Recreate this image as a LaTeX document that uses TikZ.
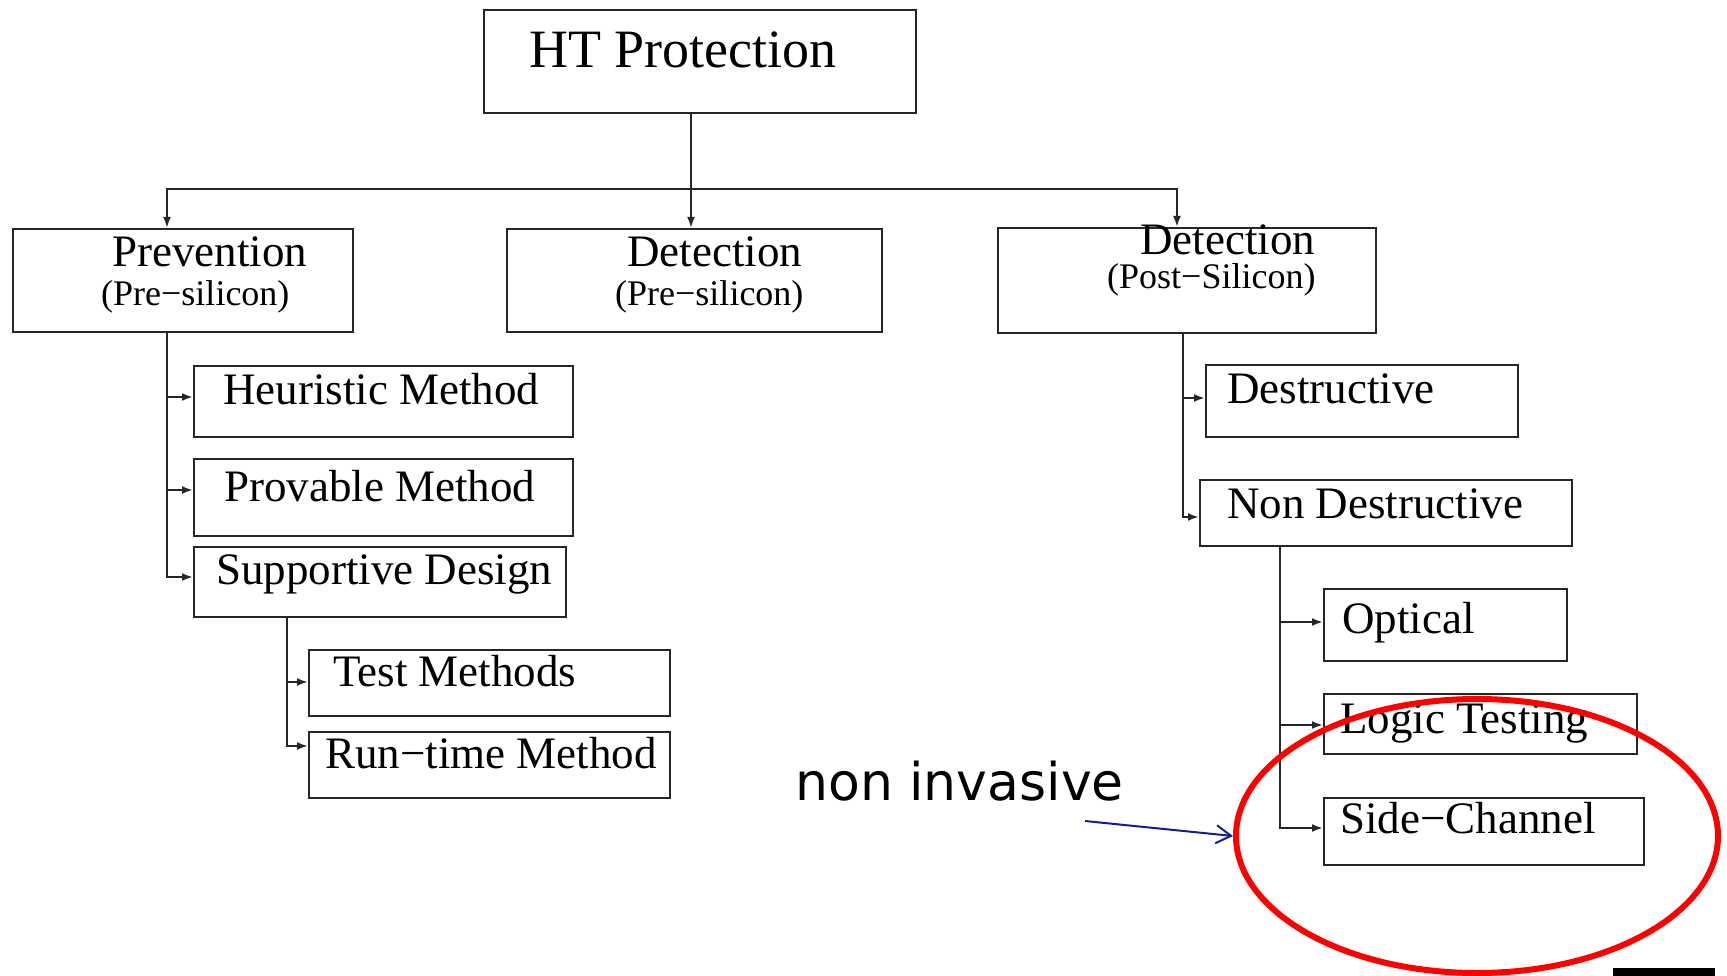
\documentclass[tikz,border=0pt]{standalone}
\usepackage{fontspec}
\setmainfont{Liberation Serif}
\newfontfamily\annfont{DejaVu Sans}
\usetikzlibrary{arrows.meta,shapes.geometric}
\definecolor{annblue}{RGB}{20,30,140}
\begin{document}
\begin{tikzpicture}[x=1pt,y=-1pt,
  box/.style={draw=black!85, line width=2.2pt, inner sep=0pt, anchor=north west},
  lbl/.style={inner sep=0pt, anchor=base west, font=\fontsize{45}{50}\selectfont},
  sublbl/.style={inner sep=0pt, anchor=base west, font=\fontsize{36}{40}\selectfont},
  conn/.style={draw=black!85, line width=2.2pt},
  arr/.style={conn, -{Latex[length=11pt,width=8pt]}},
]
\useasboundingbox (0,0) rectangle (1727,976);

% boxes
\node[box, minimum width=432pt, minimum height=103pt] (ht) at (483,9) {};
\node[box, minimum width=340pt, minimum height=103pt] (prev) at (12,228) {};
\node[box, minimum width=375pt, minimum height=103pt] (dpre) at (506,228) {};
\node[box, minimum width=378pt, minimum height=105pt] (dpost) at (997,227) {};
\node[box, minimum width=379pt, minimum height=71pt] (heur) at (193,365) {};
\node[box, minimum width=379pt, minimum height=77pt] (prov) at (193,458) {};
\node[box, minimum width=372pt, minimum height=70pt] (supp) at (193,546) {};
\node[box, minimum width=361pt, minimum height=66pt] (test) at (308,649) {};
\node[box, minimum width=361pt, minimum height=66pt] (run) at (308,731) {};
\node[box, minimum width=312pt, minimum height=72pt] (dest) at (1205,364) {};
\node[box, minimum width=372pt, minimum height=66pt] (nond) at (1199,479) {};
\node[box, minimum width=243pt, minimum height=72pt] (opt) at (1323,588) {};
\node[box, minimum width=313pt, minimum height=60pt] (logic) at (1323,693) {};
\node[box, minimum width=320pt, minimum height=67pt] (side) at (1323,797) {};

% texts
\node[lbl, font=\fontsize{54}{60}\selectfont] (ht-t) at (529,68) {HT Protection};
\node[lbl] (prev-t) at (112,267) {Prevention};
\node[sublbl] (prev-s) at (101,306) {(Pre−silicon)};
\node[lbl] (dpre-t) at (627,267) {Detection};
\node[sublbl] (dpre-s) at (615,306) {(Pre−silicon)};
\node[lbl] (dpost-t) at (1140,255) {Detection};
\node[sublbl] (dpost-s) at (1107,289) {(Post−Silicon)};
\node[lbl] (heur-t) at (223,404) {Heuristic Method};
\node[lbl] (prov-t) at (224,501) {Provable Method};
\node[lbl] (supp-t) at (216,584) {Supportive Design};
\node[lbl] (test-t) at (333,686) {Test Methods};
\node[lbl] (run-t) at (325,768) {Run−time Method};
\node[lbl] (dest-t) at (1227,403) {Destructive};
\node[lbl] (nond-t) at (1227,518) {Non Destructive};
\node[lbl] (opt-t) at (1342,633) {Optical};
\node[lbl] (logic-t) at (1340,733) {Logic Testing};
\node[lbl] (side-t) at (1340,833) {Side−Channel};

% top connectors
\coordinate (bus) at (691,189);
\draw[arr] (ht.south -| bus) -- (dpre.north -| bus);
\draw[arr] (bus) -| ([xshift=155pt]prev.north west);
\draw[arr] (bus) -| ([xshift=180pt]dpost.north west);

% prevention children
\draw[arr] ([xshift=155pt]prev.south west) |- ([yshift=-32pt]heur.north west);
\draw[arr] ([xshift=155pt]prev.south west) |- ([yshift=-32pt]prov.north west);
\draw[arr] ([xshift=155pt]prev.south west) |- ([yshift=-31pt]supp.north west);
\draw[arr] ([xshift=94pt]supp.south west) |- ([yshift=-33pt]test.north west);
\draw[arr] ([xshift=94pt]supp.south west) |- ([yshift=-15pt]run.north west);

% post-silicon children
\draw[arr] ([xshift=186pt]dpost.south west) |- ([yshift=-34pt]dest.north west);
\draw[arr] ([xshift=186pt]dpost.south west) |- ([yshift=-38pt]nond.north west);
\draw[arr] ([xshift=81pt]nond.south west) |- ([yshift=-34pt]opt.north west);
\draw[arr] ([xshift=81pt]nond.south west) |- ([yshift=-32pt]logic.north west);
\draw[arr] ([xshift=81pt]nond.south west) |- ([yshift=-31pt]side.north west);

% annotation
\node[draw=red, line width=6pt, ellipse, minimum width=482pt, minimum height=274pt, inner sep=0pt] (circ) at (1477,836) {};
\node[inner sep=0pt, anchor=base west, font=\annfont\fontsize{52}{58}\selectfont] (ni-t) at (795,800) {non invasive};
\coordinate (ni) at (1085,821);
\draw[draw=annblue, line width=2pt, -{Straight Barb[length=15pt,width=18pt]}] (ni) -- (circ.west);

% black bar at bottom edge
\fill[black] (1613,968) rectangle (1715,976);
\end{tikzpicture}
\end{document}
